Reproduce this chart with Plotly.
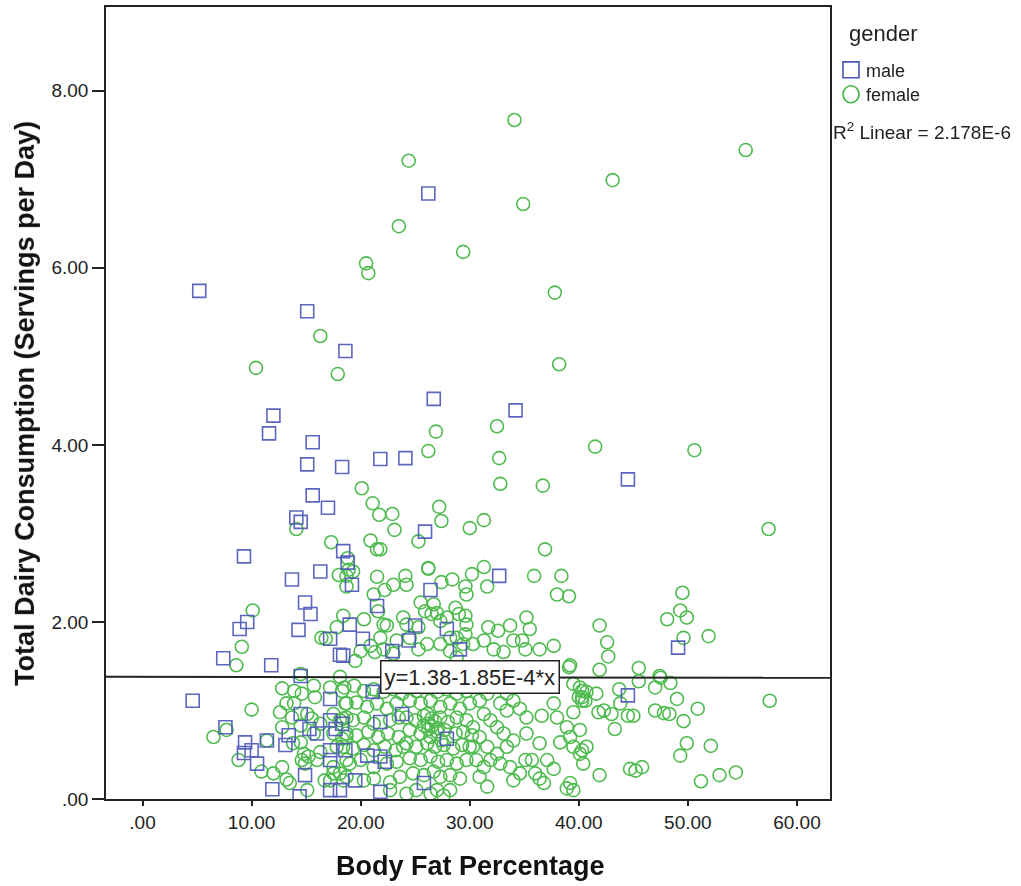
import plotly.graph_objects as go

# ---------------- data ----------------
male_x = [5.2, 26.2, 15.1, 18.6, 26.7, 12.0, 11.6, 15.6, 15.1, 18.3, 21.8, 24.1, 34.2, 44.5, 15.6, 17.0,
          14.1, 14.5, 25.9, 9.3, 18.4, 18.8, 16.3, 13.7, 32.7, 26.4, 19.2, 14.9, 15.4, 9.6, 8.9, 14.3,
          17.2, 7.4, 11.8, 18.1, 14.5, 4.6, 17.2, 14.5, 7.6, 9.4, 10.0, 9.3, 10.5, 11.4, 13.4, 13.1,
          14.9, 11.9, 14.4, 17.2, 18.1, 17.2, 17.2, 17.7, 17.2, 16.0, 15.3, 21.5, 19.0, 20.2, 18.4, 25.0,
          24.4, 22.9, 27.9, 29.1, 21.1, 23.8, 21.8, 18.3, 27.9, 20.6, 21.8, 22.2, 19.5, 21.8, 25.8, 18.6,
          49.1, 44.5]
male_y = [5.74, 6.84, 5.51, 5.06, 4.52, 4.33, 4.13, 4.03, 3.78, 3.75, 3.84, 3.85, 4.39, 3.61, 3.43, 3.29,
          3.18, 3.13, 3.02, 2.74, 2.80, 2.67, 2.57, 2.48, 2.52, 2.36, 2.42, 2.22, 2.09, 2.00, 1.92, 1.91,
          1.81, 1.59, 1.51, 1.63, 1.39, 1.11, 1.13, 0.96, 0.81, 0.64, 0.55, 0.52, 0.40, 0.66, 0.72, 0.61,
          0.27, 0.11, 0.03, 0.10, 0.10, 0.44, 0.89, 0.79, 0.55, 0.74, 0.79, 2.18, 1.97, 1.81, 1.62, 1.96,
          1.79, 1.67, 1.92, 1.69, 1.21, 0.96, 0.87, 0.85, 0.68, 0.49, 0.48, 0.42, 0.21, 0.08, 0.18, 0.55,
          1.71, 1.17]

female_x = [
    # upper part
    34.1, 55.3, 24.4, 43.1, 34.9, 23.5, 29.4, 20.5, 20.7, 37.8, 16.3, 10.4, 17.9, 38.2, 26.9, 26.2,
    32.5, 32.7, 41.5, 50.6, 32.8, 36.7, 20.1, 21.1, 21.7, 22.9, 27.2, 27.4, 23.1, 14.1, 17.3, 20.9,
    21.5, 21.8, 25.3, 18.8, 26.2, 30.0, 31.3, 57.4, 36.9, 31.3,
    # left cluster
    18.0, 18.7, 18.7, 10.1, 18.4, 17.8, 16.4, 16.8, 9.1, 8.6, 14.5, 18.1, 10.0, 12.8, 13.9, 14.6,
    15.7, 15.8, 17.2, 13.9, 12.6, 15.1, 15.5, 12.8, 7.7, 6.5, 8.8, 10.9, 11.4, 12.8, 13.2, 14.5,
    14.6, 14.9, 15.2, 16.3, 17.2, 16.7, 18.1, 18.1, 17.5, 18.3, 18.3, 18.6,
    13.2, 13.7, 14.5, 15.7, 16.3, 17.5, 18.7, 13.8, 14.8, 16.0, 17.5, 18.7, 17.8, 18.7, 12.0, 13.5,
    15.1, 17.5, 18.4,
    # middle upper
    26.2, 35.9, 38.4, 38.0, 39.1, 31.6, 30.2, 29.6, 29.7, 27.4, 28.4, 24.1, 24.2, 23.0, 21.5, 19.3,
    18.9, 21.2, 22.2, 21.6, 20.3, 22.4, 22.1, 20.0, 19.5, 25.5, 25.9, 26.5, 23.9, 24.2, 25.3, 24.5,
    23.3, 23.0, 22.1, 21.3, 20.9, 21.8, 26.7, 27.0, 27.3, 27.9, 28.7, 29.0, 29.6, 29.7, 29.6, 28.8,
    28.2, 28.2, 28.8, 27.3, 26.1, 25.3, 29.4, 30.3, 31.7, 32.6, 31.3, 32.2, 33.1, 34.0, 34.8, 33.7,
    35.2, 35.5, 35.1, 36.4, 39.2, 37.7, 39.1,
    # right part
    49.5, 49.3, 49.9, 48.1, 51.9, 49.6, 41.9, 42.6, 42.7, 41.9, 45.5, 47.4, 47.5, 45.5, 48.4, 47.0,
    43.7, 41.6, 40.3, 40.3, 40.3, 49.0, 57.5, 43.8, 50.9, 41.8, 42.3, 43.0, 44.5, 45.0, 47.0, 47.8,
    48.3, 49.6, 43.3, 49.9, 49.3, 52.1, 40.3, 40.4, 41.9, 44.7, 45.2, 45.8, 51.2, 52.9, 54.4,
    # lower right of centre
    39.5, 40.1, 40.7, 40.0, 40.6, 37.7, 36.6, 38.0, 39.5, 40.1, 38.9, 39.2, 38.3, 39.5, 40.1, 40.7,
    36.4, 37.1, 37.7, 36.4, 36.8, 39.2, 39.5, 38.9, 35.2, 35.1, 35.7, 36.0, 33.4, 34.0, 32.8, 33.4,
    34.6, 35.2, 31.9, 32.5, 33.1, 34.0, 33.4, 32.5, 31.6, 31.9, 32.8, 33.7, 34.6, 34.0, 30.9, 31.6,
    31.3, 30.6, 30.3, 30.9, 30.3, 31.3, 30.9, 31.6,
    # dense centre
    24.2, 25.1, 26.1, 27.0, 27.9, 28.8, 29.7, 24.5, 25.5, 26.4, 27.3, 28.2, 29.1, 30.0, 24.2, 25.0,
    25.8, 26.5, 27.3, 28.0, 28.8, 29.7, 24.5, 25.5, 26.2, 27.0, 27.7, 28.7, 29.4, 30.2, 24.2, 25.1,
    26.1, 26.8, 27.6, 28.5, 29.3, 30.0, 24.5, 25.5, 26.4, 27.1, 27.9, 28.8, 29.7, 24.8, 25.8, 26.7,
    27.3, 28.2, 29.1, 25.1, 26.4, 27.0, 27.6, 28.2, 26.1, 26.5, 26.2, 26.8, 27.1, 25.8, 26.4, 27.4,
    # left of centre
    18.5, 19.4, 20.3, 21.2, 22.1, 23.0, 23.8, 18.7, 19.6, 20.6, 21.5, 22.4, 23.3, 18.4, 19.3, 20.3,
    21.2, 22.7, 23.5, 18.7, 19.6, 20.7, 21.6, 22.5, 23.5, 18.4, 19.3, 20.3, 21.2, 22.2, 23.2, 23.9,
    19.0, 20.0, 21.2, 22.4, 23.3, 18.7, 20.3, 21.2, 22.7, 23.6, 22.7, 24.2,
]
female_y = [
    7.67, 7.33, 7.21, 6.99, 6.72, 6.47, 6.18, 6.05, 5.94, 5.72, 5.23, 4.87, 4.80, 4.91, 4.15, 3.93,
    4.21, 3.85, 3.98, 3.94, 3.56, 3.54, 3.51, 3.34, 3.21, 3.22, 3.30, 3.14, 3.04, 3.05, 2.90, 2.92,
    2.82, 2.82, 2.91, 2.72, 2.61, 3.06, 3.15, 3.05, 2.82, 2.62,
    2.53, 2.52, 2.40, 2.13, 2.07, 1.94, 1.82, 1.81, 1.72, 1.51, 1.41, 1.38, 1.01, 1.25, 1.22, 1.19,
    1.28, 1.15, 1.26, 1.08, 0.98, 0.96, 0.91, 0.81, 0.78, 0.70, 0.44, 0.31, 0.66, 0.36, 0.22, 0.64,
    0.44, 0.40, 0.48, 0.53, 0.21, 0.21, 0.29, 0.89, 0.74, 0.68, 1.22, 1.08,
    1.08, 0.92, 0.83, 0.74, 0.85, 0.96, 0.92, 0.63, 0.51, 0.44, 0.36, 0.44, 0.59, 0.70, 0.29, 0.18,
    0.10, 0.29, 0.21,
    2.60, 2.52, 2.52, 2.31, 2.29, 2.40, 2.54, 2.40, 2.31, 2.45, 2.48, 2.52, 2.42, 2.42, 2.51, 2.57,
    2.59, 2.31, 2.36, 2.12, 2.03, 1.96, 1.97, 1.67, 1.56, 2.22, 2.12, 2.09, 2.05, 1.97, 1.94, 1.82,
    1.79, 1.64, 1.69, 1.66, 1.73, 1.82, 2.20, 2.10, 2.01, 2.05, 2.16, 2.09, 2.07, 1.97, 1.86, 1.82,
    1.82, 1.67, 1.60, 1.75, 1.75, 1.69, 1.75, 1.75, 1.94, 1.90, 1.79, 1.69, 1.66, 1.79, 1.79, 1.96,
    2.05, 1.92, 1.69, 1.69, 1.51, 1.73, 1.49,
    2.33, 2.13, 2.05, 2.03, 1.84, 1.82, 1.96, 1.77, 1.61, 1.46, 1.48, 1.39, 1.37, 1.33, 1.31, 1.26,
    1.24, 1.19, 1.22, 1.15, 1.11, 1.13, 1.11, 1.08, 1.02, 0.98, 1.00, 0.96, 0.94, 0.94, 1.00, 0.97,
    0.96, 0.88, 0.79, 0.63, 0.49, 0.60, 0.55, 0.40, 0.27, 0.34, 0.32, 0.36, 0.20, 0.27, 0.30,
    1.30, 1.26, 1.21, 1.15, 1.11, 1.08, 0.94, 0.92, 0.98, 0.78, 0.81, 0.70, 0.64, 0.59, 0.51, 0.59,
    0.63, 0.44, 0.34, 0.23, 0.18, 0.18, 0.10, 0.12, 0.74, 0.44, 0.44, 0.29, 1.19, 1.11, 1.08, 1.00,
    1.02, 0.92, 0.89, 0.81, 0.74, 0.66, 0.59, 0.51, 0.59, 0.44, 0.40, 0.36, 0.29, 0.21, 0.25, 0.14,
    0.36, 0.44, 0.59, 0.70, 0.81, 0.96, 1.11, 1.19,
    1.26, 1.22, 1.26, 1.21, 1.24, 1.19, 1.22, 1.11, 1.08, 1.11, 1.04, 1.08, 1.02, 1.08, 0.92, 0.89,
    0.94, 0.91, 0.92, 0.87, 0.92, 0.89, 0.78, 0.74, 0.79, 0.76, 0.78, 0.74, 0.76, 0.72, 0.63, 0.59,
    0.63, 0.59, 0.61, 0.57, 0.61, 0.59, 0.46, 0.44, 0.48, 0.42, 0.44, 0.40, 0.44, 0.29, 0.27, 0.31,
    0.25, 0.27, 0.23, 0.10, 0.06, 0.10, 0.04, 0.10, 0.96, 0.82, 0.85, 0.88, 0.80, 0.83, 0.70, 0.66,
    1.26, 1.28, 1.22, 1.24, 1.21, 1.24, 1.19, 1.08, 1.09, 1.04, 1.08, 1.02, 1.08, 0.91, 0.89, 0.92,
    0.85, 0.89, 0.92, 0.74, 0.72, 0.76, 0.70, 0.74, 0.70, 0.59, 0.57, 0.61, 0.55, 0.59, 0.55, 0.59,
    0.40, 0.44, 0.36, 0.40, 0.42, 0.25, 0.21, 0.23, 0.19, 0.25, 0.10, 0.06,
]

fit_intercept = 1.38
fit_slope = -1.85e-4
fit_label = "y=1.38-1.85E-4*x"
r2_label = "R<sup>2</sup> Linear = 2.178E-6"

x_ticks = [0, 10, 20, 30, 40, 50, 60]
x_ticktext = [".00", "10.00", "20.00", "30.00", "40.00", "50.00", "60.00"]
y_ticks = [0, 2, 4, 6, 8]
y_ticktext = [".00", "2.00", "4.00", "6.00", "8.00"]

x_range = [-3.35, 63.03]
y_range = [0, 8.946]

# ---------------- styling ----------------
BLUE = "#4a55b8"
GREEN = "#3cb43c"
FONT = "Arial, Liberation Sans, sans-serif"

fig = go.Figure()

fig.add_trace(go.Scatter(
    x=female_x, y=female_y, mode="markers", name="female",
    marker=dict(symbol="circle-open", size=13, color=GREEN, line=dict(width=1.6, color=GREEN)),
    opacity=0.9,
))
fig.add_trace(go.Scatter(
    x=male_x, y=male_y, mode="markers", name="male",
    marker=dict(symbol="square-open", size=13, color=BLUE, line=dict(width=1.6, color=BLUE)),
    opacity=0.9,
))

fit_x = list(x_range)
fit_y = [fit_intercept + fit_slope * v for v in fit_x]
fig.add_trace(go.Scatter(
    x=fit_x, y=fit_y, mode="lines", name="fit",
    line=dict(color="#222222", width=2),
))

# regression equation label
fig.add_annotation(
    x=30.0, y=fit_intercept + fit_slope * 30.0, xref="x", yref="y",
    text=fit_label, showarrow=False,
    font=dict(family=FONT, size=22, color="#222222"),
    bgcolor="white", bordercolor="#222222", borderwidth=1.5, borderpad=3,
)

# axis titles
fig.add_annotation(
    x=0.503, y=-0.084, xref="paper", yref="paper", text="<b>Body Fat Percentage</b>",
    showarrow=False, font=dict(family=FONT, size=27, color="#111111"),
    xanchor="center", yanchor="middle",
)
fig.add_annotation(
    x=-0.112, y=0.5, xref="paper", yref="paper",
    text="<b>Total Dairy Consumption (Servings per Day)</b>",
    showarrow=False, textangle=-90, font=dict(family=FONT, size=27, color="#111111"),
    xanchor="center", yanchor="middle",
)

# legend (drawn manually)
def px2paper_x(px):
    return (px - 106) / (830 - 106)

def px2paper_y(py):
    return (799 - py) / (799 - 5)

fig.add_annotation(x=px2paper_x(847), y=px2paper_y(32), xref="paper", yref="paper",
                   text="gender", showarrow=False, xanchor="left", yanchor="middle",
                   font=dict(family=FONT, size=22, color="#222222"))
fig.add_shape(type="rect", xref="paper", yref="paper",
              x0=px2paper_x(843), x1=px2paper_x(859), y0=px2paper_y(60), y1=px2paper_y(76),
              line=dict(color=BLUE, width=1.6))
fig.add_shape(type="circle", xref="paper", yref="paper",
              x0=px2paper_x(843), x1=px2paper_x(859), y0=px2paper_y(84), y1=px2paper_y(101),
              line=dict(color=GREEN, width=1.6))
fig.add_annotation(x=px2paper_x(864), y=px2paper_y(69), xref="paper", yref="paper",
                   text="male", showarrow=False, xanchor="left", yanchor="middle",
                   font=dict(family=FONT, size=18, color="#222222"))
fig.add_annotation(x=px2paper_x(864), y=px2paper_y(93), xref="paper", yref="paper",
                   text="female", showarrow=False, xanchor="left", yanchor="middle",
                   font=dict(family=FONT, size=18, color="#222222"))
fig.add_annotation(x=px2paper_x(831), y=px2paper_y(129), xref="paper", yref="paper",
                   text=r2_label, showarrow=False, xanchor="left", yanchor="middle",
                   font=dict(family=FONT, size=19, color="#222222"))

fig.update_layout(
    width=1021, height=886,
    margin=dict(l=106, r=191, t=5, b=87),
    paper_bgcolor="white", plot_bgcolor="white",
    showlegend=False,
    font=dict(family=FONT, size=19, color="#222222"),
)
fig.update_xaxes(
    range=x_range, tickvals=x_ticks, ticktext=x_ticktext,
    showgrid=False, zeroline=False, showline=True, mirror=True,
    linecolor="#222222", linewidth=1.5, ticks="outside", ticklen=5, tickwidth=1.5,
    tickcolor="#222222", tickfont=dict(family=FONT, size=19, color="#222222"),
)
fig.update_yaxes(
    range=y_range, tickvals=y_ticks, ticktext=y_ticktext,
    showgrid=False, zeroline=False, showline=True, mirror=True,
    linecolor="#222222", linewidth=1.5, ticks="outside", ticklen=12, tickwidth=1.5,
    tickcolor="#222222", tickfont=dict(family=FONT, size=19, color="#222222"),
)

fig.write_html("out.html", config={"displayModeBar": False},
               post_script="document.body.style.margin='0';")
